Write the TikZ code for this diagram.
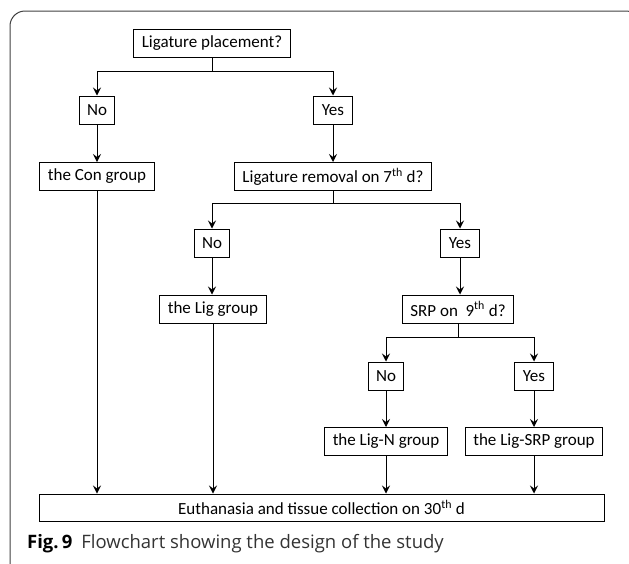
\documentclass[tikz,border=0pt]{standalone}
\usepackage{fontspec}
\setmainfont{Carlito}
\newfontfamily\capfont{Open Sans}
\usetikzlibrary{arrows.meta}

\begin{document}
\begin{tikzpicture}[x=1pt,y=-1pt,
    box/.style={draw,line width=1pt,inner xsep=8pt,inner ysep=0pt,minimum height=28pt,font=\fontsize{17}{20}\selectfont},
    arr/.style={line width=1pt,-{Stealth[length=8pt,width=8pt,inset=3pt]}},
    ln/.style={line width=1pt}]
    \useasboundingbox (0,0) rectangle (629,563);
    \clip (0,0) rectangle (629,563);
    % 外框
    \draw[black!75,line width=1pt,rounded corners=15pt] (10,11) rectangle (641,590);

    % 各个节点
    \node[box] (place) at (212,43) {Ligature placement?};
    \node[box] (no1) at (97,110) {No};
    \node[box] (yes1) at (333,110) {Yes};
    \node[box] (con) at (97,176.5) {the Con group};
    \node[box] (rem) at (333,176.5) {Ligature removal on 7\textsuperscript{th} d?};
    \node[box] (no2) at (212,243) {No};
    \node[box] (yes2) at (460,243) {Yes};
    \node[box] (lig) at (213,309) {the Lig group};
    \node[box] (srp) at (458,309) {SRP on\ \ 9\textsuperscript{th} d?};
    \node[box] (no3) at (386,376) {No};
    \node[box] (yes3) at (534,376) {Yes};
    \node[box] (ligN) at (386,441.5) {the Lig-N group};
    \node[box] (ligSRP) at (534,441.5) {the Lig-SRP group};
    \node[box,minimum width=565pt,minimum height=27pt] (euth) at (321.5,507.5)
        {Euthanasia and tissue collection on 30\textsuperscript{th} d};

    % 分支点
    \coordinate (s1) at (212,71);
    \coordinate (s2) at (333,203);
    \coordinate (s3) at (458,337);

    \draw[ln] (place) -- (s1);
    \draw[arr] (s1) -| (no1);
    \draw[arr] (s1) -| (yes1);
    \draw[arr] (no1) -- (con);
    \draw[arr] (yes1) -- (rem);

    \draw[ln] (rem) -- (s2);
    \draw[arr] (s2) -| (no2);
    \draw[arr] (s2) -| (yes2);
    \draw[arr] (no2) -- (no2 |- lig.north);
    \draw[arr] (yes2) -- (yes2 |- srp.north);

    \draw[ln] (srp) -- (s3);
    \draw[arr] (s3) -| (no3);
    \draw[arr] (s3) -| (yes3);
    \draw[arr] (no3) -- (ligN);
    \draw[arr] (yes3) -- (ligSRP);

    % 汇总到最后一步
    \draw[arr] (con) -- (con |- euth.north);
    \draw[arr] (lig) -- (lig |- euth.north);
    \draw[arr] (ligN) -- (ligN |- euth.north);
    \draw[arr] (ligSRP) -- (ligSRP |- euth.north);

    % 图注
    \node[anchor=base west,inner sep=0pt,font=\capfont\fontsize{18.5}{20}\selectfont] (cap) at (27,548)
        {\textbf{Fig.\,9}\hspace{9pt}{\color{black!80}Flowchart showing the design of the study}};
\end{tikzpicture}
\end{document}
